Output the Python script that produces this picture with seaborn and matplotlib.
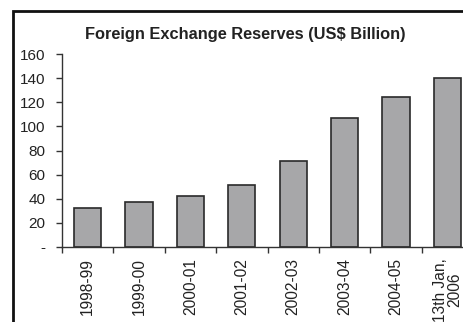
import matplotlib
matplotlib.use("Agg")
import matplotlib.pyplot as plt
import seaborn as sns
import pandas as pd
import numpy as np
from matplotlib.patches import Rectangle

categories = ["1998-99", "1999-00", "2000-01", "2001-02", "2002-03",
              "2003-04", "2004-05", "13th Jan,\n2006"]
reserves = [32.6, 37.6, 42.5, 51.0, 71.5, 107.3, 124.1, 140.0]
yticks = [0, 20, 40, 60, 80, 100, 120, 140, 160]
yticklabels = ["-", "20", "40", "60", "80", "100", "120", "140", "160"]

sns.set_theme(style="white")
plt.rcParams['font.family'] = ['Liberation Sans', 'DejaVu Sans']

df = pd.DataFrame({"cat": categories, "val": reserves})

fig = plt.figure(figsize=(4.63, 3.22), dpi=100)
ax = fig.add_axes([62/463, 75/322, 411/463, 193/322])
sns.barplot(data=df, x="cat", y="val", ax=ax, color="#a7a7a9",
            edgecolor="#2a2a2a", linewidth=1.2, width=0.53, saturation=1)

ax.set_xlim(-0.5, len(categories) - 0.5)
ax.set_ylim(0, 160)
ax.set_yticks(yticks)
ax.set_yticklabels(yticklabels, fontsize=11, color="#222222")
ax.set_xticks(range(len(categories)))
ax.set_xticklabels(categories, rotation=90, fontsize=11.2, color="#222222",
                   ha="center", va="top", multialignment="center",
                   linespacing=0.95)
ax.set_xticks(np.arange(-0.5, len(categories), 1.0), minor=True)
ax.tick_params(axis="x", which="major", length=0, pad=8)
ax.tick_params(axis="x", which="minor", length=4, width=1, color="#333333",
               direction="out", bottom=True)
ax.tick_params(axis="y", length=4, width=1, color="#333333", direction="out",
               left=True, pad=8)
ax.set_xlabel("")
ax.set_ylabel("")
for s in ["top", "right"]:
    ax.spines[s].set_visible(False)
for s in ["left", "bottom"]:
    ax.spines[s].set_color("#333333")
    ax.spines[s].set_linewidth(1.0)

fig.text(245/463, 1 - 35/322, "Foreign Exchange Reserves (US$ Billion)",
         ha="center", va="center", fontsize=11.8, fontweight="bold",
         color="#222222")

fig.patches.append(Rectangle((13/463, -0.1), 1.2, 1 - 11/322 + 0.1,
                             transform=fig.transFigure, fill=False,
                             edgecolor="#111111", linewidth=2))

fig.savefig("out.png", dpi=100)
